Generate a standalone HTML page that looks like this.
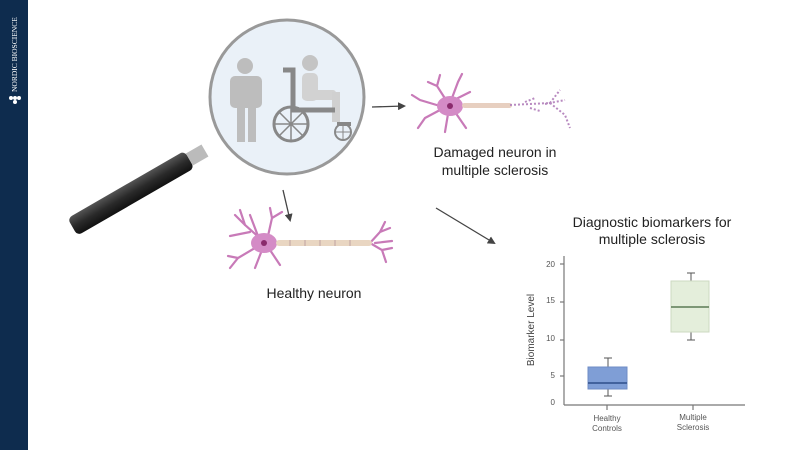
<!DOCTYPE html>
<html><head><style>
body{margin:0;width:800px;height:450px;overflow:hidden;background:#fff;font-family:"Liberation Sans",sans-serif}
</style></head><body>
<svg width="800" height="450" viewBox="0 0 800 450" xmlns="http://www.w3.org/2000/svg" font-family="Liberation Sans, sans-serif">
<defs>
<marker id="ar" markerWidth="8" markerHeight="8" refX="6" refY="4" orient="auto" markerUnits="userSpaceOnUse"><path d="M0,0 L8,4 L0,8 z" fill="#444"/></marker>
<linearGradient id="hg" x1="0" y1="0" x2="0" y2="1"><stop offset="0" stop-color="#555"/><stop offset="0.5" stop-color="#2a2a2a"/><stop offset="1" stop-color="#111"/></linearGradient>
</defs>
<rect x="0" y="0" width="28" height="450" fill="#0e2c4e"/>
<text transform="translate(17,92) rotate(-90)" fill="#fff" font-family="Liberation Serif, serif" font-size="7.5">NORDIC BIOSCIENCE</text>
<g fill="#fff"><circle cx="11" cy="98" r="2"/><circle cx="15" cy="98" r="2"/><circle cx="19" cy="98" r="2"/><circle cx="15" cy="102" r="2"/></g>

<g transform="rotate(-30 140 188)">
<rect x="62" y="178" width="135" height="20" rx="5" fill="url(#hg)"/>
<rect x="197" y="181" width="18" height="14" fill="#bbb"/>
</g>
<circle cx="287" cy="97" r="77" fill="#eaf1f8" stroke="#999" stroke-width="3"/>
<g fill="#bdbdbd">
<circle cx="245" cy="66" r="8"/>
<rect x="230" y="76" width="32" height="32" rx="5"/>
<rect x="237" y="100" width="8" height="42"/><rect x="248" y="100" width="8" height="42"/>
</g>
<circle cx="310" cy="63" r="8" fill="#c4c4c4"/>
<rect x="302" y="73" width="16" height="28" rx="5" fill="#d2d2d2"/>
<rect x="302" y="90" width="34" height="10" rx="3" fill="#d2d2d2"/>
<rect x="332" y="92" width="8" height="30" fill="#d0d0d0"/>
<path d="M283 70 L293 70 L293 110 L335 110" fill="none" stroke="#888" stroke-width="5"/>
<circle cx="291" cy="124" r="17" fill="none" stroke="#888" stroke-width="3"/>
<path d="M274 124 H308 M291 107 V141 M279 112 L303 136 M303 112 L279 136" stroke="#888" stroke-width="1.5"/>
<circle cx="343" cy="132" r="8" fill="none" stroke="#888" stroke-width="2"/>
<path d="M335 132 H351 M343 124 V140" stroke="#888" stroke-width="1"/>
<rect x="337" y="122" width="14" height="4" fill="#888"/>

<g stroke="#444" stroke-width="1.3" fill="none">
<line x1="372" y1="107" x2="404" y2="106" marker-end="url(#ar)"/>
<line x1="283" y1="190" x2="290" y2="220" marker-end="url(#ar)"/>
<line x1="436" y1="208" x2="494" y2="243" marker-end="url(#ar)"/>
</g>

<g stroke="#c87ab8" stroke-width="2.2" fill="none" stroke-linecap="round">
<path d="M262 240 L245 225 L235 215 M245 225 L240 210 M250 232 L230 236 M255 248 L238 258 L230 268 M238 258 L228 256 M262 250 L255 268 M270 250 L280 265 M268 236 L272 218 L270 208 M272 218 L282 212 M258 236 L250 215"/>
<path d="M370 243 L380 232 L385 222 M380 232 L390 228 M370 243 L382 250 L386 262 M382 250 L392 248 M375 243 L392 241"/>
</g>
<ellipse cx="264" cy="243" rx="13" ry="10" fill="#d48bc6"/>
<circle cx="264" cy="243" r="3" fill="#8a2a6c"/>
<rect x="276" y="240" width="96" height="6" rx="3" fill="#e9d6c2"/>
<g stroke="#bfa3a3" stroke-width="1"><line x1="290" y1="240" x2="290" y2="246"/><line x1="305" y1="240" x2="305" y2="246"/><line x1="320" y1="240" x2="320" y2="246"/><line x1="335" y1="240" x2="335" y2="246"/><line x1="350" y1="240" x2="350" y2="246"/></g>

<g stroke="#c87ab8" stroke-width="2.2" fill="none" stroke-linecap="round">
<path d="M446 100 L437 86 L440 75 M437 86 L428 82 M452 98 L458 82 L462 74 M440 106 L420 100 L412 95 M440 110 L425 118 L418 128 M448 114 L445 132 M455 112 L466 128 M454 100 L470 92"/>
</g>
<ellipse cx="450" cy="106" rx="13" ry="10" fill="#d48bc6"/>
<circle cx="450" cy="106" r="3" fill="#8a2a6c"/>
<rect x="462" y="103" width="50" height="5" rx="2.5" fill="#e7cfc0"/>
<path d="M510 105 L550 103 L560 90 M550 103 L565 115 L570 128 M545 104 L565 100 M525 102 L535 98 M530 108 L540 111" stroke="#b88ac0" stroke-width="2" stroke-dasharray="2 2" fill="none"/>

<g font-size="14" fill="#222" text-anchor="middle">
<text x="495" y="157">Damaged neuron in</text>
<text x="495" y="175">multiple sclerosis</text>
<text x="314" y="298">Healthy neuron</text>
<text x="652" y="227">Diagnostic biomarkers for</text>
<text x="652" y="244">multiple sclerosis</text>
</g>

<g stroke="#777" stroke-width="1.2" fill="none">
<line x1="564" y1="256" x2="564" y2="405"/>
<line x1="564" y1="405" x2="745" y2="405"/>
<line x1="560" y1="264" x2="564" y2="264"/><line x1="560" y1="302" x2="564" y2="302"/><line x1="560" y1="340" x2="564" y2="340"/><line x1="560" y1="376" x2="564" y2="376"/>
<line x1="607" y1="405" x2="607" y2="410"/><line x1="693" y1="405" x2="693" y2="410"/>
</g>
<g font-size="8" fill="#555" text-anchor="end">
<text x="555" y="267">20</text><text x="555" y="303">15</text><text x="555" y="341">10</text><text x="555" y="378">5</text><text x="555" y="405">0</text>
</g>
<text transform="translate(534,330) rotate(-90)" font-size="10" fill="#444" text-anchor="middle">Biomarker Level</text>
<g font-size="8" fill="#555" text-anchor="middle">
<text x="607" y="421">Healthy</text><text x="607" y="431">Controls</text>
<text x="693" y="420">Multiple</text><text x="693" y="430">Sclerosis</text>
</g>
<g stroke="#555" stroke-width="1">
<line x1="608" y1="358" x2="608" y2="367"/><line x1="604" y1="358" x2="612" y2="358"/>
<line x1="608" y1="389" x2="608" y2="396"/><line x1="604" y1="396" x2="612" y2="396"/>
<line x1="691" y1="273" x2="691" y2="281"/><line x1="687" y1="273" x2="695" y2="273"/>
<line x1="691" y1="332" x2="691" y2="340"/><line x1="687" y1="340" x2="695" y2="340"/>
</g>
<rect x="588" y="367" width="39" height="22" fill="#7f9ed6" stroke="#6f8cc6"/>
<line x1="588" y1="383" x2="627" y2="383" stroke="#2f4f8a" stroke-width="1.5"/>
<rect x="671" y="281" width="38" height="51" fill="#e4eedb" stroke="#cdd9c2"/>
<line x1="671" y1="307" x2="709" y2="307" stroke="#5b7a55" stroke-width="1.5"/>
</svg>
</body></html>
